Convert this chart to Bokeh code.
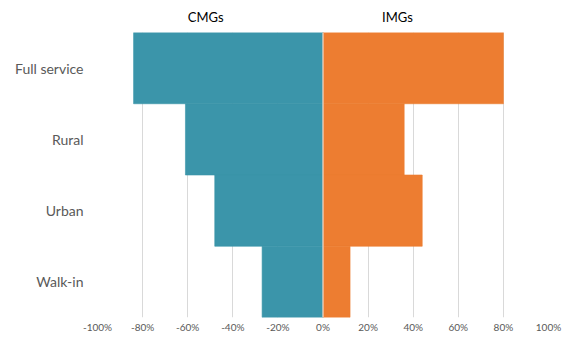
from bokeh.plotting import figure
from bokeh.models import (FactorRange, Range1d, Span, FixedTicker,
                          PrintfTickFormatter, LinearAxis)
from bokeh.embed import file_html
from bokeh.resources import INLINE

# Share of each service type (percent)
categories = ["Full service", "Rural", "Urban", "Walk-in"]
cmg_share = [84, 61, 48, 27]   # drawn to the left of zero
img_share = [80, 36, 44, 12]   # drawn to the right of zero
x_ticks = [-100, -80, -60, -40, -20, 0, 20, 40, 60, 80, 100]
group_titles = {-52: "CMGs", 33: "IMGs"}

FONT = "Lato"
GREY = "#595959"
TEAL = "#3b95aa"
ORANGE = "#ed7d31"

p = figure(
    width=564, height=337,
    y_range=FactorRange(*reversed(categories)),
    x_range=Range1d(-100, 100),
    output_backend="svg", toolbar_location=None,
    min_border_left=97, min_border_right=16,
    min_border_top=32, min_border_bottom=20,
)

p.hbar(y=categories, left=[-v for v in cmg_share], right=0, height=1.0,
       fill_color=TEAL, line_color=TEAL, line_width=0.6)
p.hbar(y=categories, left=0, right=img_share, height=1.0,
       fill_color=ORANGE, line_color=ORANGE, line_width=0.6)

p.add_layout(Span(location=0, dimension="height", line_color="#eeeeee", line_width=1))

# Percentage axis along the bottom
bottom = p.below[0]
bottom.ticker = FixedTicker(ticks=x_ticks)
bottom.formatter = PrintfTickFormatter(format="%d%%")
bottom.axis_line_color = None
bottom.major_tick_line_color = None
bottom.minor_tick_line_color = None
bottom.major_tick_out = 0
bottom.major_tick_in = 0
bottom.major_label_standoff = 3
bottom.major_label_text_font = FONT
bottom.major_label_text_font_size = "10px"
bottom.major_label_text_color = GREY

# Group headings above the two halves
top_axis = LinearAxis(ticker=FixedTicker(ticks=list(group_titles.keys())),
                      major_label_overrides=group_titles)
top_axis.axis_line_color = None
top_axis.major_tick_line_color = None
top_axis.minor_tick_line_color = None
top_axis.major_tick_out = 0
top_axis.major_tick_in = 0
top_axis.major_label_standoff = 8
top_axis.major_label_text_font = FONT
top_axis.major_label_text_font_size = "13px"
top_axis.major_label_text_color = "#000000"
p.add_layout(top_axis, "above")

p.outline_line_color = None
p.ygrid.grid_line_color = None
p.xgrid.grid_line_color = "#d9d9d9"
p.xgrid.ticker = FixedTicker(ticks=x_ticks)

left = p.left[0]
left.axis_line_color = None
left.major_tick_line_color = None
left.minor_tick_line_color = None
left.major_tick_out = 0
left.major_tick_in = 0
left.major_label_standoff = 14
left.major_label_text_font = FONT
left.major_label_text_font_size = "14px"
left.major_label_text_color = GREY

open("out.html", "w").write(file_html(p, INLINE))
